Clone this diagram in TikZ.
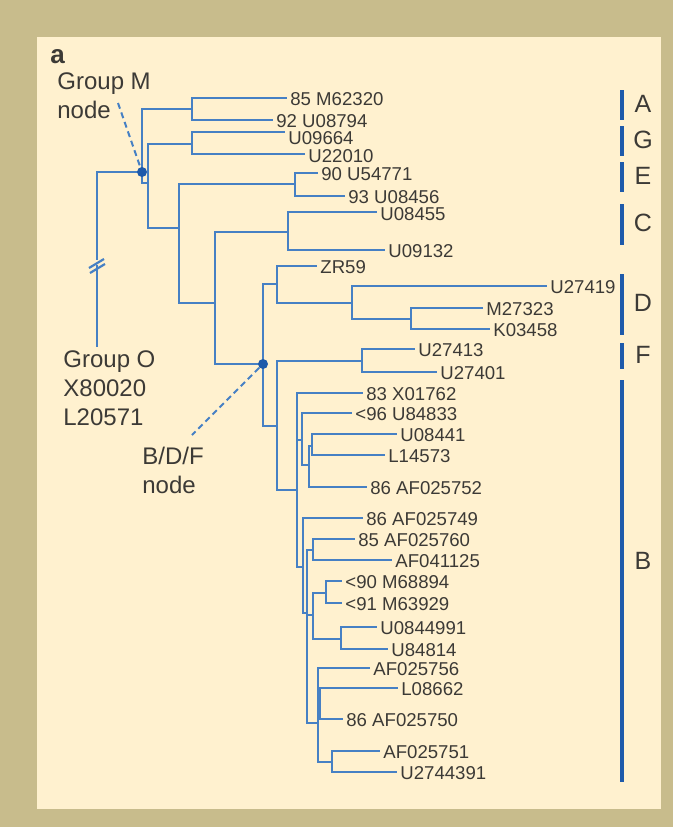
\documentclass[tikz,border=0pt]{standalone}
\usepackage{fontspec}
\setmainfont{Liberation Sans}
\usetikzlibrary{positioning}

\definecolor{frame}{RGB}{200,188,140}
\definecolor{paper}{RGB}{255,241,207}
\definecolor{branch}{RGB}{70,128,196}
\definecolor{mark}{RGB}{30,90,170}
\definecolor{ink}{RGB}{60,58,54}

\begin{document}
\begin{tikzpicture}[
    x=0.5pt, y=-0.5pt,
    every node/.style={text=ink},
    br/.style={draw=branch, line width=1.1pt},
    leaf/.style={anchor=west, inner xsep=1.5pt, inner ysep=0pt, text height=0.72em, text depth=0pt, font=\fontsize{9.3}{11}\selectfont},
    note/.style={anchor=north west, align=left, inner sep=0pt, font=\fontsize{12}{14.5}\selectfont},
    clade/.style={draw=mark, line width=1.7pt},
    cladename/.style={text height=0.72em, text depth=0pt, inner sep=0pt, font=\fontsize{12.5}{15}\selectfont},
    pointer/.style={draw=branch, line width=1pt, dash pattern=on 3pt off 2pt},
    knot/.style={circle, fill=mark, inner sep=0pt, minimum size=5pt},
]
% panel
\fill[frame] (0,0) rectangle (673,827);
\fill[paper] (37,37) rectangle (661,809);

\node[anchor=base west, inner sep=0pt, font=\fontsize{13}{15}\selectfont\bfseries] (panel) at (50,63) {a};
\node[note] (grpM) at (57,72) {Group M\\node};
\node[note] (grpO) at (63,350) {Group O\\X80020\\L20571};
\node[note] (grpBDF) at (142,447) {B/D/F\\node};

% leaves
\node[leaf] (m62320) at (287,98) {85 M62320};
\node[leaf] (u08794) at (273,120) {92 U08794};
\node[leaf] (u09664) at (285,137) {U09664};
\node[leaf] (u22010) at (305,155) {U22010};
\node[leaf] (u54771) at (318,173) {90 U54771};
\node[leaf] (u08456) at (345,196) {93 U08456};
\node[leaf] (u08455) at (377,213) {U08455};
\node[leaf] (u09132) at (385,250) {U09132};
\node[leaf] (zr59) at (317,266) {ZR59};
\node[leaf] (u27419) at (547,286) {U27419};
\node[leaf] (m27323) at (483,308) {M27323};
\node[leaf] (k03458) at (490,329) {K03458};
\node[leaf] (u27413) at (415,349) {U27413};
\node[leaf] (u27401) at (437,372) {U27401};
\node[leaf] (x01762) at (363,393) {83 X01762};
\node[leaf] (u84833) at (352,413) {<96 U84833};
\node[leaf] (u08441) at (397,434) {U08441};
\node[leaf] (l14573) at (385,455) {L14573};
\node[leaf] (af025752) at (367,487) {86 AF025752};
\node[leaf] (af025749) at (363,518) {86 AF025749};
\node[leaf] (af025760) at (355,539) {85 AF025760};
\node[leaf] (af041125) at (392,560) {AF041125};
\node[leaf] (m68894) at (342,581) {<90 M68894};
\node[leaf] (m63929) at (342,603) {<91 M63929};
\node[leaf] (u0844991) at (377,627) {U0844991};
\node[leaf] (u84814) at (388,649) {U84814};
\node[leaf] (af025756) at (370,668) {AF025756};
\node[leaf] (l08662) at (398,688) {L08662};
\node[leaf] (af025750) at (343,719) {86 AF025750};
\node[leaf] (af025751) at (380,751) {AF025751};
\node[leaf] (u2744391) at (397,772) {U2744391};

% internal nodes
\coordinate (root) at (97,172);
\coordinate (brk) at (97,262);
\coordinate (oEnd) at (97,347);
\coordinate (nM) at (142,172);
\coordinate (nA) at (192,109);
\coordinate (nRest) at (148,183);
\coordinate (nG) at (192,144);
\coordinate (nCore) at (179,228);
\coordinate (nE) at (295,184);
\coordinate (nCD) at (215,303);
\coordinate (nC) at (288,232);
\coordinate (nBDF) at (263,364);
\coordinate (nDZ) at (277,284);
\coordinate (nD) at (352,303);
\coordinate (nMK) at (411,319);
\coordinate (nFB) at (277,426);
\coordinate (nF) at (362,361);
\coordinate (nB0) at (297,490);
\coordinate (nB1) at (302,440);
\coordinate (nB3) at (309,465);
\coordinate (nB4) at (312,446);
\coordinate (nB5) at (303,567);
\coordinate (nB6) at (307,613);
\coordinate (nB8) at (313,550);
\coordinate (nB7) at (313,615);
\coordinate (nB9) at (326,593);
\coordinate (nB10) at (341,639);
\coordinate (nB11) at (318,723);
\coordinate (nB12) at (320,703);
\coordinate (nB13) at (332,762);

% root with break
\draw[br] (nM) -- (root) -- ([yshift=1.25pt]brk);
\draw[br] ([yshift=-1.25pt]brk) -- (oEnd);
\draw[br] ([shift={(-8,6)}]brk) -- ([shift={(7,-3)}]brk);
\draw[br] ([shift={(-7,11)}]brk) -- ([shift={(8,2)}]brk);

% branches
\draw[br] (nM) |- (nA) (nM) |- (nRest);
\draw[br] (nA) |- (m62320.west) (nA) |- (u08794.west);
\draw[br] (nRest) |- (nG) (nRest) |- (nCore);
\draw[br] (nG) |- ([yshift=2.5pt]u09664.west) (nG) |- ([yshift=0.5pt]u22010.west);
\draw[br] (nCore) |- (nE) (nCore) |- (nCD);
\draw[br] (nE) |- (u54771.west) (nE) |- (u08456.west);
\draw[br] (nCD) |- (nC) (nCD) |- (nBDF);
\draw[br] (nC) |- ([yshift=0.5pt]u08455.west) (nC) |- (u09132.west);
\draw[br] (nBDF) |- (nDZ) (nBDF) |- (nFB);
\draw[br] (nDZ) |- (zr59.west) (nDZ) |- (nD);
\draw[br] (nD) |- (u27419.west) (nD) |- (nMK);
\draw[br] (nMK) |- (m27323.west) (nMK) |- (k03458.west);
\draw[br] (nFB) |- (nF) (nFB) |- (nB0);
\draw[br] (nF) |- (u27413.west) (nF) |- (u27401.west);
\draw[br] (nB0) |- (x01762.west) (nB0) |- (nB1) (nB0) |- (nB5);
\draw[br] (nB1) |- (u84833.west) (nB1) |- (nB3);
\draw[br] (nB3) |- (nB4) (nB3) |- (af025752.west);
\draw[br] (nB4) |- (u08441.west) (nB4) |- (l14573.west);
\draw[br] (nB5) |- (af025749.west) (nB5) |- (nB6);
\draw[br] (nB6) |- (nB8) (nB6) |- (nB7) (nB6) |- (nB11);
\draw[br] (nB8) |- (af025760.west) (nB8) |- (af041125.west);
\draw[br] (nB7) |- (nB9) (nB7) |- (nB10);
\draw[br] (nB9) |- (m68894.west) (nB9) |- (m63929.west);
\draw[br] (nB10) |- (u0844991.west) (nB10) |- (u84814.west);
\draw[br] (nB11) |- (af025756.west) (nB11) |- (nB12) (nB11) |- (nB13);
\draw[br] (nB12) |- (l08662.west) (nB12) |- (af025750.west);
\draw[br] (nB13) |- (af025751.west) (nB13) |- (u2744391.west);

% marked nodes
\node[knot] (dotM) at (nM) {};
\node[knot] (dotBDF) at (nBDF) {};
\coordinate (pM) at (118,103);
\coordinate (pBDF) at (192,435);
\draw[pointer] (pM) -- (dotM);
\draw[pointer] (dotBDF) -- (pBDF);

% subtypes
\node[cladename] (cA) at (643,105) {A};
\node[cladename] (cG) at (643,141) {G};
\node[cladename] (cE) at (643,177) {E};
\node[cladename] (cC) at (643,224) {C};
\node[cladename] (cD) at (643,304) {D};
\node[cladename] (cF) at (643,356) {F};
\node[cladename] (cB) at (643,562) {B};
\draw[clade] (622,90) -- (622,120);
\draw[clade] (622,126) -- (622,156);
\draw[clade] (622,162) -- (622,192);
\draw[clade] (622,204) -- (622,245);
\draw[clade] (622,274) -- (622,335);
\draw[clade] (622,343) -- (622,369);
\draw[clade] (622,380) -- (622,782);
\end{tikzpicture}
\end{document}
